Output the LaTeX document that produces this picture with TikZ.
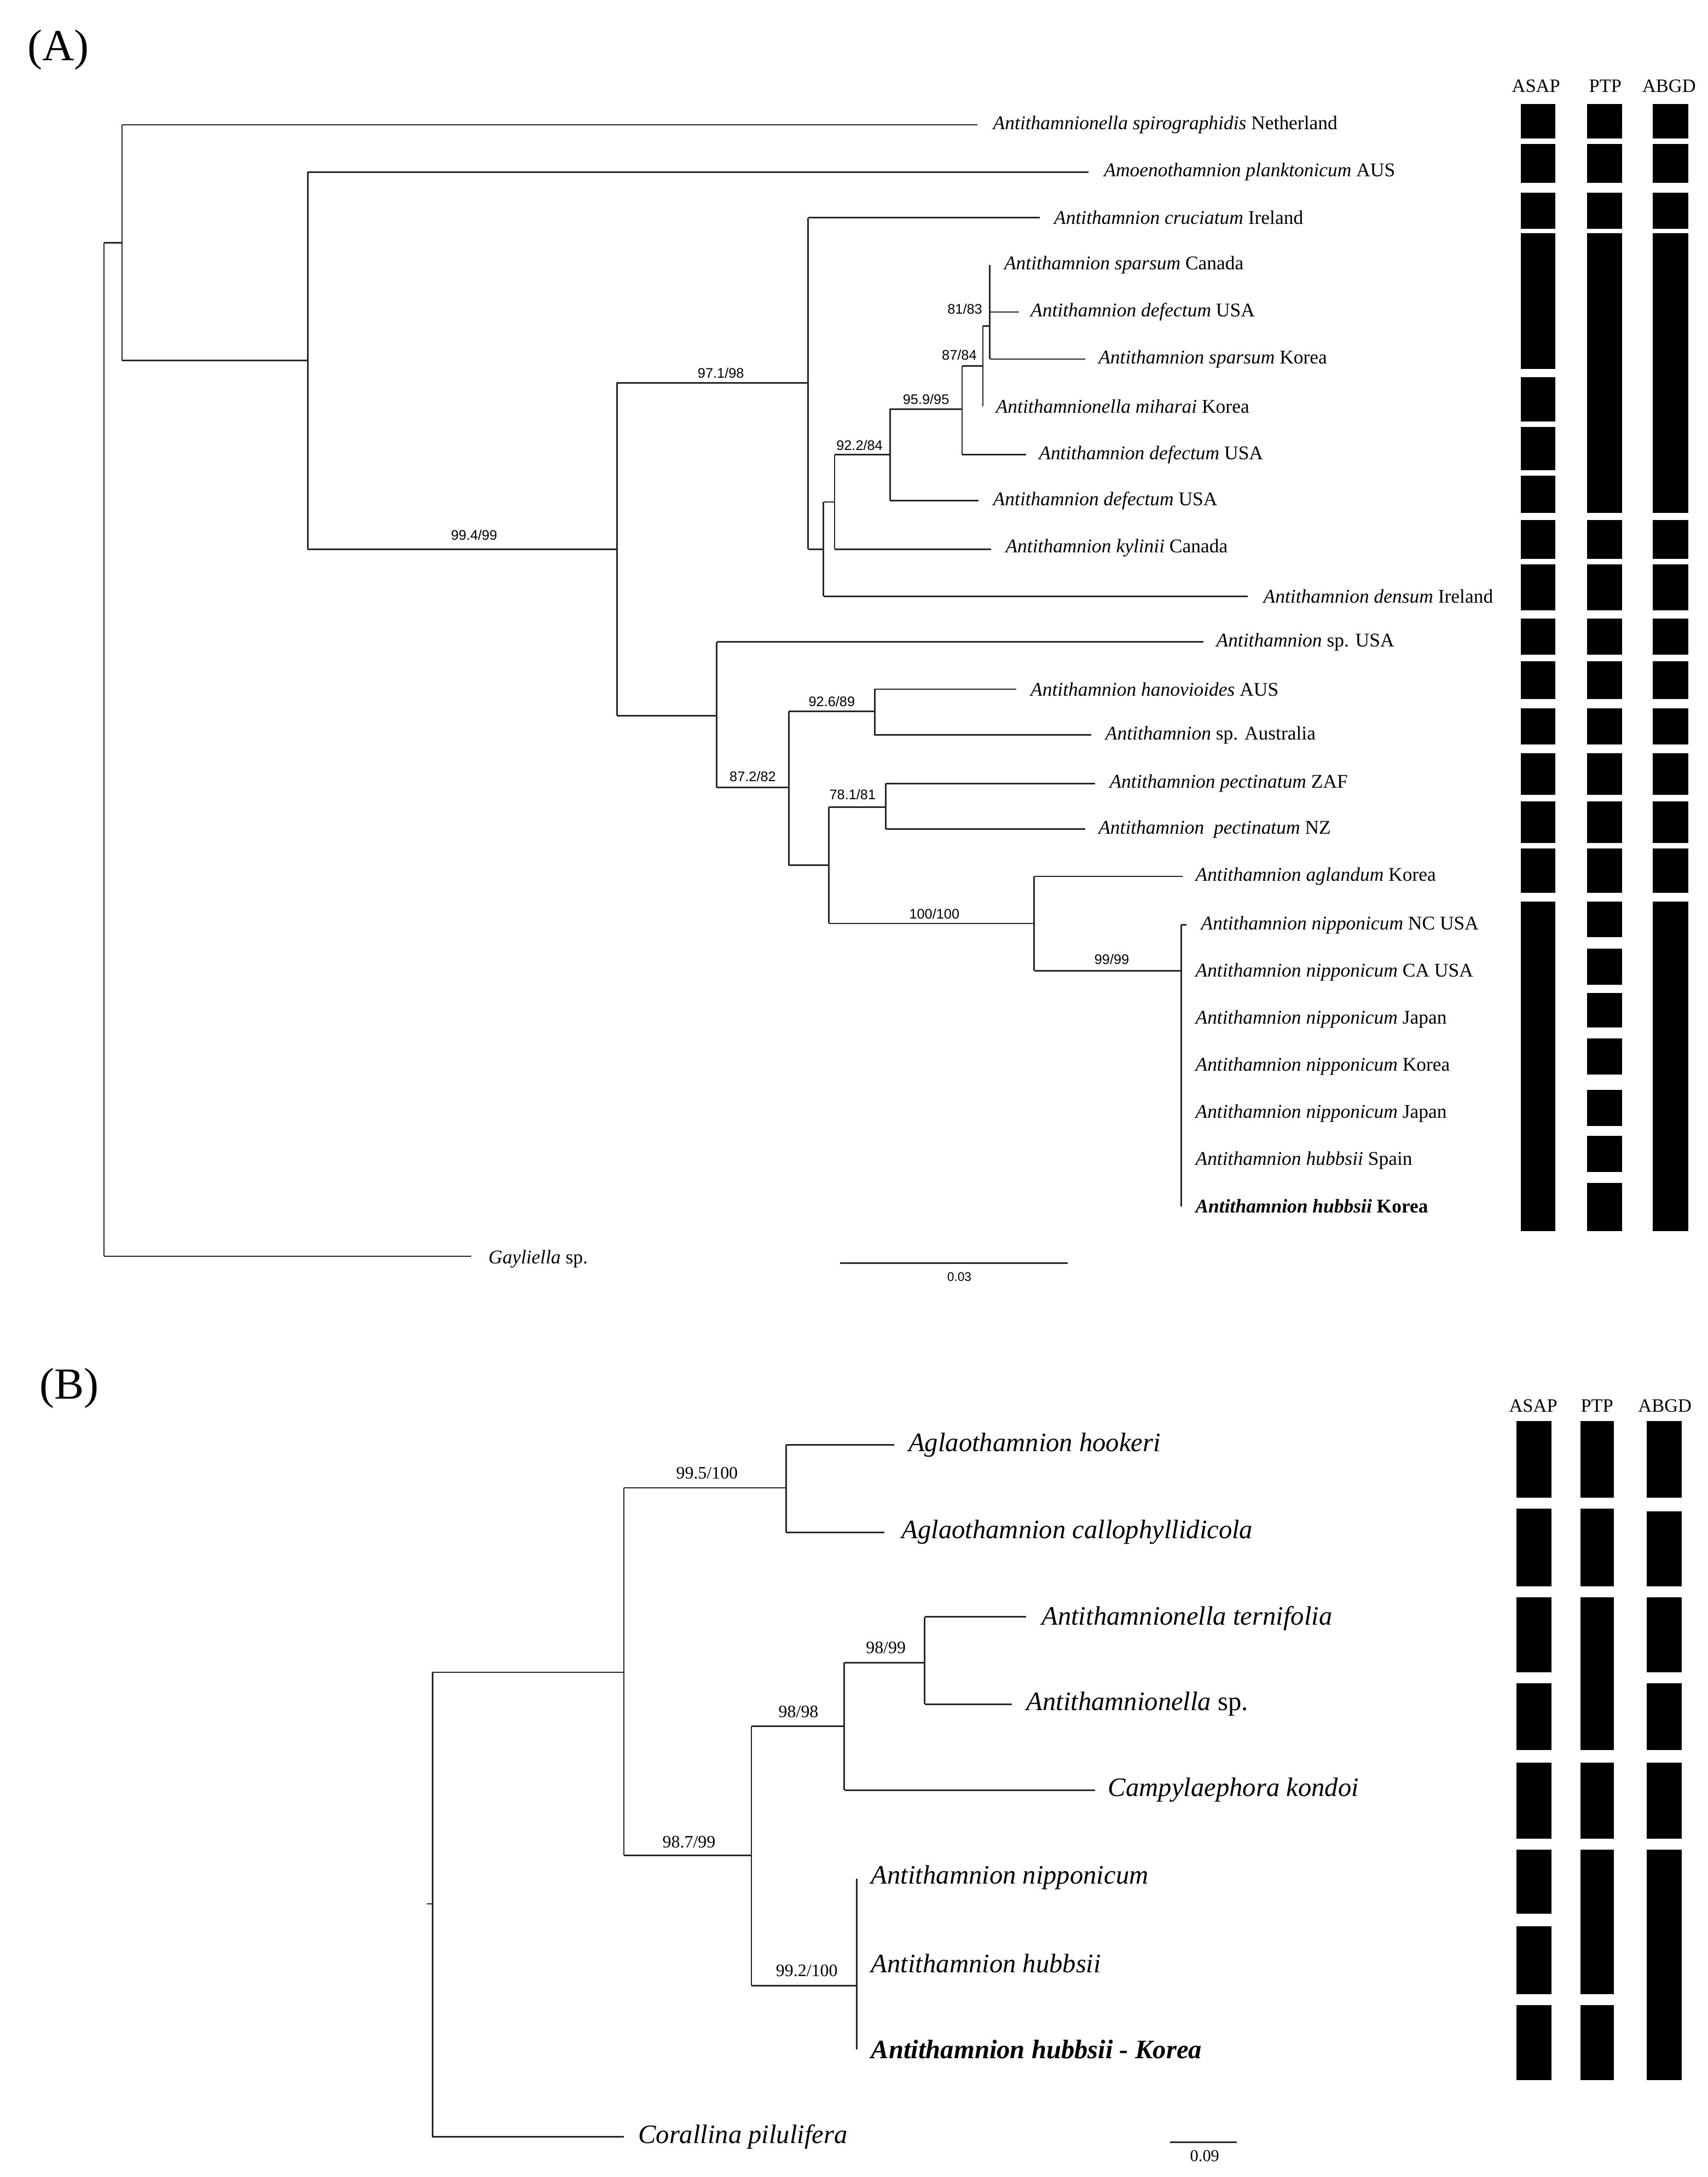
\documentclass[tikz,border=0pt]{standalone}
\usepackage{fontspec}
\setmainfont{Liberation Serif}
\newfontfamily\sansf{Liberation Sans}
\begin{document}
\begin{tikzpicture}[x=0.5pt,y=-0.5pt,
  br/.style={line width=0.55pt,draw=black!85},
  ta/.style={anchor=west,font=\fontsize{7}{8}\selectfont,inner sep=0pt},
  tb/.style={anchor=west,font=\fontsize{9.6}{11}\selectfont\itshape,inner sep=0pt},
  bsa/.style={anchor=south,font=\sansf\fontsize{5}{6}\selectfont,inner sep=1pt},
  bsb/.style={anchor=south,font=\fontsize{6.3}{7}\selectfont,inner sep=1pt},
  hd/.style={font=\fontsize{6.8}{8}\selectfont,inner sep=0pt},
  bar/.style={fill=black,draw=none}]
\useasboundingbox (0,0) rectangle (1232,1570);
\newcommand{\El}[4]{\draw[br] (#1,#2) -- (#1,#3);}% vertical
\newcommand{\Hl}[3]{\draw[br] (#1,#3) -- (#2,#3);}
\node[font=\fontsize{16}{18}\selectfont] (labA) at (42,36) {(A)};
\node[font=\fontsize{16}{18}\selectfont] (labB) at (50,1001) {(B)};
% ---------- Tree A ----------
\El{75}{175}{906}{}\Hl{75}{88}{175}
\El{88}{90}{260}{}\Hl{88}{705}{90}\Hl{88}{222}{260}
\El{222}{124}{396}{}\Hl{222}{785}{124}\Hl{222}{445}{396}
\El{445}{276}{516}{}\Hl{445}{583}{276}\Hl{445}{517}{516}
\El{583}{157}{396}{}\Hl{583}{750}{157}\Hl{583}{594}{396}
\El{594}{362}{430}{}\Hl{594}{602}{362}\Hl{594}{900}{430}
\El{602}{328}{396}{}\Hl{602}{642}{328}\Hl{602}{715}{396}
\El{642}{295}{361}{}\Hl{642}{694}{295}\Hl{642}{706}{361}
\El{694}{264}{328}{}\Hl{694}{709}{264}\Hl{694}{740}{328}
\El{709}{235}{293}{}\Hl{709}{714}{235}
\El{714}{191}{259}{}\Hl{714}{735}{225}\Hl{714}{783}{259}
\El{517}{463}{568}{}\Hl{517}{868}{463}\Hl{517}{569}{568}
\El{569}{513}{624}{}\Hl{569}{631}{513}\Hl{569}{598}{624}
\El{631}{497}{530}{}\Hl{631}{733}{497}\Hl{631}{787}{530}
\El{598}{582}{666}{}\Hl{598}{639}{582}\Hl{598}{746}{666}
\El{639}{565}{598}{}\Hl{639}{790}{565}\Hl{639}{783}{598}
\El{746}{632}{700}{}\Hl{746}{853}{632}\Hl{746}{852}{700}
\El{852}{667}{870}{}\Hl{852}{856}{667}
\Hl{75}{340}{906}
\node[bsa] (b1) at (342,392) {99.4/99};
\node[bsa] (b2) at (520,275) {97.1/98};
\node[bsa] (b3) at (620,327) {92.2/84};
\node[bsa] (b4) at (668,294) {95.9/95};
\node[bsa] (b5) at (692,262) {87/84};
\node[bsa] (b6) at (696,229) {81/83};
\node[bsa] (b7) at (543,566) {87.2/82};
\node[bsa] (b8) at (600,512) {92.6/89};
\node[bsa] (b9) at (615,579) {78.1/81};
\node[bsa] (b10) at (674,665) {100/100};
\node[bsa] (b11) at (802,698) {99/99};
\node[ta] (t1) at (716,90) {\textit{Antithamnionella spirographidis} Netherland};
\node[ta] (t2) at (796,124) {\textit{Amoenothamnion planktonicum} AUS};
\node[ta] (t3) at (760,157) {\textit{Antithamnion cruciatum} Ireland};
\node[ta] (t4) at (724,191) {\textit{Antithamnion sparsum} Canada};
\node[ta] (t5) at (743,225) {\textit{Antithamnion defectum} USA};
\node[ta] (t6) at (792,259) {\textit{Antithamnion sparsum} Korea};
\node[ta] (t7) at (718,293) {\textit{Antithamnionella miharai} Korea};
\node[ta] (t8) at (749,328) {\textit{Antithamnion defectum} USA};
\node[ta] (t9) at (716,361) {\textit{Antithamnion defectum} USA};
\node[ta] (t10) at (725,395) {\textit{Antithamnion kylinii} Canada};
\node[ta] (t11) at (911,430) {\textit{Antithamnion densum} Ireland};
\node[ta] (t12) at (877,463) {\textit{Antithamnion} sp. USA};
\node[ta] (t13) at (743,497) {\textit{Antithamnion hanovioides} AUS};
\node[ta] (t14) at (797,530) {\textit{Antithamnion} sp. Australia};
\node[ta] (t15) at (800,565) {\textit{Antithamnion pectinatum} ZAF};
\node[ta] (t16) at (792,598) {\textit{Antithamnion \ pectinatum} NZ};
\node[ta] (t17) at (862,632) {\textit{Antithamnion aglandum} Korea};
\node[ta] (t18) at (866,667) {\textit{Antithamnion nipponicum} NC USA};
\node[ta] (t19) at (862,701) {\textit{Antithamnion nipponicum} CA USA};
\node[ta] (t20) at (862,735) {\textit{Antithamnion nipponicum} Japan};
\node[ta] (t21) at (862,769) {\textit{Antithamnion nipponicum} Korea};
\node[ta] (t22) at (862,803) {\textit{Antithamnion nipponicum} Japan};
\node[ta] (t23) at (862,837) {\textit{Antithamnion hubbsii} Spain};
\node[ta] (t24) at (862,870) {\textbf{\textit{Antithamnion hubbsii} Korea}};
\node[ta] (t25) at (352,908) {\textit{Gayliella} sp.};
\draw[br] (606,911) -- (770,911);
\node[font=\sansf\fontsize{4.5}{5}\selectfont] (sA) at (692,921) {0.03};
\node[hd] (hA1) at (1108,62) {ASAP};
\node[hd] (hA2) at (1158,62) {PTP};
\node[hd] (hA3) at (1204,62) {ABGD};
\foreach \a/\b in {75/100,104/132,139/165,168/266,272/304,308/339,343/370,375/403,407/440,446/472,477/504,511/537,543/573,578/608,612/644,650/888}
  \fill[bar] (1097,\a) rectangle (1122,\b);
\foreach \a/\b in {75/100,104/132,139/165,168/370,375/403,407/440,446/472,477/504,511/537,543/573,578/608,612/644,650/676,684/710,716/741,749/775,786/812,819/845,853/888}
  \fill[bar] (1145,\a) rectangle (1170,\b);
\foreach \a/\b in {75/100,104/132,139/165,168/370,375/403,407/440,446/472,477/504,511/537,543/573,578/608,612/644,650/888}
  \fill[bar] (1192,\a) rectangle (1218,\b);
% ---------- Tree B ----------
\draw[br] (308,1373) -- (312,1373);
\El{312}{1206}{1541}{}\Hl{312}{450}{1206}\Hl{312}{450}{1541}
\El{450}{1073}{1338}{}\Hl{450}{567}{1073}\Hl{450}{542}{1338}
\El{567}{1042}{1105}{}\Hl{567}{645}{1042}\Hl{567}{638}{1105}
\El{542}{1245}{1432}{}\Hl{542}{609}{1245}\Hl{542}{618}{1432}
\El{609}{1199}{1291}{}\Hl{609}{667}{1199}\Hl{609}{790}{1291}
\El{667}{1166}{1229}{}\Hl{667}{740}{1166}\Hl{667}{730}{1229}
\El{618}{1355}{1478}{}
\node[bsb] (c1) at (510,1069) {99.5/100};
\node[bsb] (c2) at (497,1335) {98.7/99};
\node[bsb] (c3) at (576,1241) {98/98};
\node[bsb] (c4) at (639,1195) {98/99};
\node[bsb] (c5) at (582,1428) {99.2/100};
\node[tb] (u1) at (655,1042) {Aglaothamnion hookeri};
\node[tb] (u2) at (650,1105) {Aglaothamnion callophyllidicola};
\node[tb] (u3) at (751,1167) {Antithamnionella ternifolia};
\node[tb] (u4) at (740,1229) {Antithamnionella \upshape sp.};
\node[tb] (u5) at (799,1291) {Campylaephora kondoi};
\node[tb] (u6) at (628,1354) {Antithamnion nipponicum};
\node[tb] (u7) at (628,1416) {Antithamnion hubbsii};
\node[tb] (u8) at (628,1478) {\bfseries Antithamnion hubbsii - Korea};
\node[tb] (u9) at (460,1541) {Corallina pilulifera};
\draw[br] (844,1545) -- (892,1545);
\node[font=\fontsize{6}{7}\selectfont] (sB) at (869,1555) {0.09};
\node[hd] (hB1) at (1106,1014) {ASAP};
\node[hd] (hB2) at (1152,1014) {PTP};
\node[hd] (hB3) at (1201,1014) {ABGD};
\foreach \a/\b in {1025/1080,1088/1144,1152/1206,1214/1262,1271/1326,1334/1380,1389/1438,1446/1500}
  \fill[bar] (1094,\a) rectangle (1119,\b);
\foreach \a/\b in {1025/1080,1088/1144,1152/1262,1271/1326,1334/1438,1446/1500}
  \fill[bar] (1140,\a) rectangle (1164,\b);
\foreach \a/\b in {1025/1080,1090/1144,1152/1206,1214/1262,1271/1326,1334/1500}
  \fill[bar] (1188,\a) rectangle (1213,\b);
\end{tikzpicture}
\end{document}
